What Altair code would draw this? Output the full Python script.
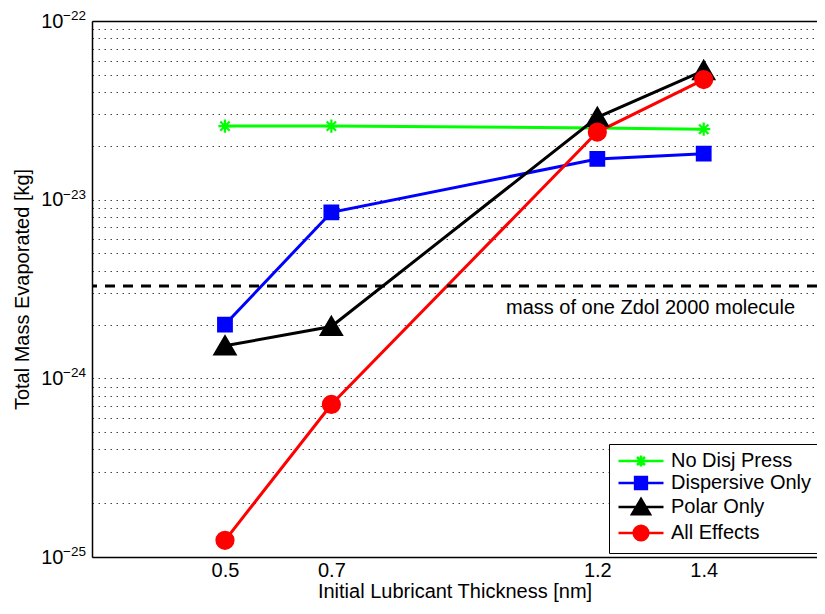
import altair as alt
import pandas as pd

# ---- data ----
thickness = [0.5, 0.7, 1.2, 1.4]
no_disj = [2.58e-23, 2.58e-23, 2.52e-23, 2.48e-23]
dispersive = [2.0e-24, 8.5e-24, 1.69e-23, 1.81e-23]
polar = [1.52e-24, 1.95e-24, 2.89e-23, 5.28e-23]
all_effects = [1.24e-25, 7.14e-25, 2.39e-23, 4.70e-23]

series_names = ["No Disj Press", "Dispersive Only", "Polar Only", "All Effects"]
series_colors = ["#00ff00", "#0000ff", "#000000", "#ff0000"]

molecule_mass = [3.29e-24]
molecule_label = ["mass of one Zdol 2000 molecule"]
molecule_label_x = [1.30]
molecule_label_y = [2.48e-24]

x_ticks = [0.5, 0.7, 1.2, 1.4]
x_domain = [0.25, 1.613]
y_domain = [1e-25, 1e-22]
y_decades = [1e-25, 1e-24, 1e-23, 1e-22]
y_exponent_text = ["\u221225", "\u221224", "\u221223", "\u221222"]
y_exponents = [-25, -24, -23]

# ---- marker shapes ----
star = "M0,-0.66V0.66M-0.66,0H0.66M-0.47,-0.47L0.47,0.47M-0.47,0.47L0.47,-0.47"
square = "M-0.68,-0.68H0.68V0.68H-0.68Z"
tri = "M0,-0.95L1.05,0.85L-1.05,0.85Z"
circ = "M0.85,0A0.85,0.85,0,1,1,-0.85,0A0.85,0.85,0,1,1,0.85,0Z"
marker_paths = [star, square, tri, circ]
# legend versions: same markers scaled for a smaller symbol size, with a line through
leg_star = "M-4.5,0H4.5M0,-1.1V1.1M-1.1,0H1.1M-0.8,-0.8L0.8,0.8M-0.8,0.8L0.8,-0.8"
leg_square = "M-4.5,0H4.5M-1.18,-1.18H1.18V1.18H-1.18Z"
leg_tri = "M-4.5,0H4.5M0,-1.6L1.8,1.45L-1.8,1.45Z"
leg_circ = "M-4.5,0H4.5M1.47,0A1.47,1.47,0,1,1,-1.47,0A1.47,1.47,0,1,1,1.47,0Z"
legend_paths = [leg_star, leg_square, leg_tri, leg_circ]

rows = []
for name, vals in zip(series_names, [no_disj, dispersive, polar, all_effects]):
    for t, v in zip(thickness, vals):
        rows.append({"series": name, "thickness": t, "mass": v})
df = pd.DataFrame(rows)

y_values = []
for e in y_exponents:
    for m in range(1, 10):
        y_values.append(float(f"{m}e{e}"))
y_values.append(1e-22)

xscale = alt.Scale(domain=x_domain, nice=False, zero=False)
yscale = alt.Scale(type="log", domain=y_domain, nice=False)

label_expr = "abs(log(datum.value)/LN10 - round(log(datum.value)/LN10)) < 0.01 ? '10' : ''"

x_axis = alt.Axis(values=x_ticks, format=".1f", grid=False, ticks=False,
                  labelFontSize=20, titleFontSize=20, titleFontWeight="normal",
                  title="Initial Lubricant Thickness [nm]", domainColor="black",
                  domainWidth=1.5, labelColor="black", titleColor="black",
                  labelPadding=3, titlePadding=1, labelFlush=False)
y_axis = alt.Axis(values=y_values, labelExpr=label_expr, grid=True,
                  gridDash=[1.5, 4.5], gridColor="#444444", gridWidth=1,
                  ticks=False, labelFontSize=20, titleFontSize=20,
                  titleFontWeight="normal", title="Total Mass Evaporated [kg]",
                  domainColor="black", domainWidth=1.5, labelColor="black",
                  titleColor="black", labelPadding=29, titlePadding=8,
                  labelOverlap=False, labelBaseline="middle")
top_axis = alt.Axis(orient="top", labels=False, ticks=False, grid=False,
                    title=None, domainColor="black", domainWidth=1.5)

color_scale = alt.Scale(domain=series_names, range=series_colors)

lines = alt.Chart(df).mark_line(strokeWidth=3).encode(
    x=alt.X("thickness:Q", scale=xscale, axis=x_axis),
    y=alt.Y("mass:Q", scale=yscale, axis=y_axis),
    color=alt.Color("series:N", scale=color_scale, legend=None),
)

points = alt.Chart(df).mark_point(size=400, strokeWidth=2.2, opacity=1, fillOpacity=1).encode(
    x=alt.X("thickness:Q", scale=xscale, axis=None),
    y=alt.Y("mass:Q", scale=yscale, axis=None),
    shape=alt.Shape("series:N", scale=alt.Scale(domain=series_names, range=marker_paths), legend=None),
    fill=alt.Fill("series:N", scale=color_scale, legend=None),
    stroke=alt.Stroke("series:N", scale=color_scale, legend=None),
)

leg = alt.Legend(title=None, orient="none", legendX=517, legendY=423,
                 fillColor="white", strokeColor="black", padding=7,
                 symbolSize=100, symbolStrokeWidth=2.5, symbolOffset=15,
                 labelOffset=20, labelFontSize=20, labelColor="black",
                 rowPadding=0, symbolOpacity=1, labelLimit=300)

legend_layer = alt.Chart(df).mark_point(size=100, strokeWidth=2, opacity=0).encode(
    x=alt.X("thickness:Q", scale=xscale, axis=None),
    y=alt.Y("mass:Q", scale=yscale, axis=None),
    shape=alt.Shape("series:N", scale=alt.Scale(domain=series_names, range=legend_paths), legend=leg),
    fill=alt.Fill("series:N", scale=color_scale, legend=leg),
    stroke=alt.Stroke("series:N", scale=color_scale, legend=leg),
)

rule = alt.Chart(pd.DataFrame({"y": molecule_mass})).mark_rule(
    strokeDash=[10, 8], strokeWidth=3, color="black"
).encode(y=alt.Y("y:Q", scale=yscale, axis=None))

text = alt.Chart(pd.DataFrame({"x": molecule_label_x, "y": molecule_label_y,
                               "label": molecule_label})).mark_text(
    fontSize=20, align="center", baseline="middle", color="black"
).encode(
    x=alt.X("x:Q", scale=xscale, axis=top_axis),
    y=alt.Y("y:Q", scale=yscale, axis=None),
    text="label:N",
)

exp_df = pd.DataFrame({"x": [x_domain[0]] * len(y_decades), "y": y_decades,
                       "exp": y_exponent_text})
exponents = alt.Chart(exp_df).mark_text(
    fontSize=13.5, align="right", baseline="middle", dx=-6, dy=-5, color="black"
).encode(
    x=alt.X("x:Q", scale=xscale, axis=None),
    y=alt.Y("y:Q", scale=yscale, axis=None),
    text="exp:N",
)

chart = alt.layer(lines, rule, points, legend_layer, text, exponents).resolve_scale(
    shape="independent", fill="independent", stroke="independent"
).resolve_axis(x="independent", y="independent").properties(
    width=725, height=536,
    autosize=alt.AutoSizeParams(type="none"),
    padding={"left": 84, "top": 13, "right": 0, "bottom": 45},
).configure_view(stroke=None).configure(font="Liberation Sans")

chart.save("out.html", embed_options={"renderer": "svg", "actions": False})
